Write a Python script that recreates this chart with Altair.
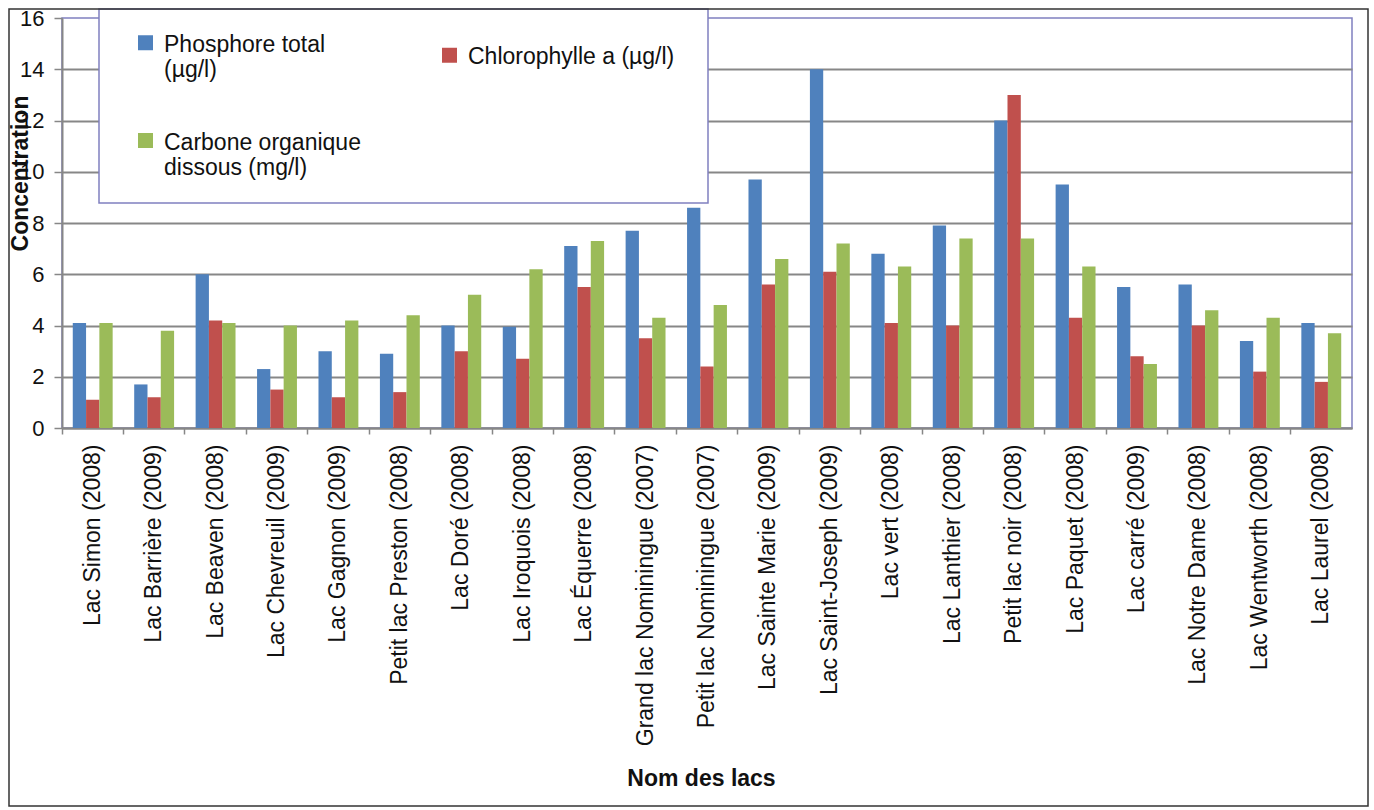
import altair as alt
import pandas as pd

# Lakes, in display order
lacs = [
    "Lac Simon (2008)", "Lac Barrière (2009)", "Lac Beaven (2008)",
    "Lac Chevreuil (2009)", "Lac Gagnon (2009)", "Petit lac Preston (2008)",
    "Lac Doré (2008)", "Lac Iroquois (2008)", "Lac Équerre (2008)",
    "Grand lac Nominingue (2007)", "Petit lac Nominingue (2007)",
    "Lac Sainte Marie (2009)", "Lac Saint-Joseph (2009)", "Lac vert (2008)",
    "Lac Lanthier (2008)", "Petit lac noir (2008)", "Lac Paquet (2008)",
    "Lac carré (2009)", "Lac Notre Dame (2008)", "Lac Wentworth (2008)",
    "Lac Laurel (2008)",
]

# Measured concentrations per lake
phosphore = [4.1, 1.7, 6.0, 2.3, 3.0, 2.9, 4.0, 3.95, 7.1, 7.7, 8.6,
             9.7, 14.0, 6.8, 7.9, 12.0, 9.5, 5.5, 5.6, 3.4, 4.1]
chlorophylle = [1.1, 1.2, 4.2, 1.5, 1.2, 1.4, 3.0, 2.7, 5.5, 3.5, 2.4,
                5.6, 6.1, 4.1, 4.0, 13.0, 4.3, 2.8, 4.0, 2.2, 1.8]
carbone = [4.1, 3.8, 4.1, 4.0, 4.2, 4.4, 5.2, 6.2, 7.3, 4.3, 4.8,
           6.6, 7.2, 6.3, 7.4, 7.4, 6.3, 2.5, 4.6, 4.3, 3.7]

series = ["Phosphore total (µg/l)", "Chlorophylle a (µg/l)",
          "Carbone organique dissous (mg/l)"]
colors = ["#4F81BD", "#C0504D", "#9BBB59"]
y_ticks = list(range(0, 17, 2))

rows = []
for serie, vals in zip(series, [phosphore, chlorophylle, carbone]):
    for lac, v in zip(lacs, vals):
        rows.append({"lac": lac, "serie": serie, "valeur": v})
df = pd.DataFrame(rows)

FONT = "Liberation Sans"
GRID = "#878787"
BORDER = "#8080C0"

# Legend labels wrapped on two lines where the series name is long
label_expr = (
    "datum.label == 'Phosphore total (µg/l)' ? ['Phosphore total', '(µg/l)'] : "
    "datum.label == 'Carbone organique dissous (mg/l)' ? "
    "['Carbone organique', 'dissous (mg/l)'] : datum.label"
)

bars = alt.Chart(df).mark_bar().encode(
    x=alt.X(
        "lac:N",
        sort=lacs,
        scale=alt.Scale(paddingInner=0, paddingOuter=0),
        axis=alt.Axis(
            title="Nom des lacs",
            labelAngle=270,
            labelAlign="right",
            labelBaseline="middle",
            labelFont=FONT,
            labelFontSize=23,
            labelColor="#111111",
            labelPadding=10,
            labelLimit=400,
            bandPosition=0,
            tickSize=6,
            tickColor=GRID,
            tickWidth=1.5,
            domainColor=GRID,
            domainWidth=2,
            titleFont=FONT,
            titleFontSize=23,
            titleFontWeight="bold",
            titleColor="#111111",
            titleX=639,
            titleY=350,
            titleBaseline="middle",
            titleAlign="center",
        ),
    ),
    xOffset=alt.XOffset(
        "serie:N", sort=series,
        scale=alt.Scale(paddingInner=0, paddingOuter=0.81),
    ),
    y=alt.Y(
        "valeur:Q",
        scale=alt.Scale(domain=[0, 16], nice=False, zero=True),
        axis=alt.Axis(
            title="Concentration",
            values=y_ticks,
            format="d",
            labelFont=FONT,
            labelFontSize=22,
            labelColor="#111111",
            labelPadding=10,
            tickSize=8,
            tickColor=GRID,
            tickWidth=1.5,
            domainColor=GRID,
            domainWidth=2,
            grid=True,
            gridColor=alt.condition(
                alt.datum.value == 16, alt.value("transparent"), alt.value(GRID)
            ),
            gridWidth=1.8,
            titleFont=FONT,
            titleFontSize=23,
            titleFontWeight="bold",
            titleColor="#111111",
            titleAngle=270,
            titleX=-42,
            titleY=155,
            titleAlign="center",
            titleBaseline="middle",
        ),
    ),
    color=alt.Color(
        "serie:N",
        scale=alt.Scale(domain=series, range=colors),
        legend=alt.Legend(
            title=None,
            orient="none",
            direction="horizontal",
            legendX=72,
            legendY=4,
            columns=2,
            columnPadding=77,
            rowPadding=38,
            padding=0,
            symbolType="M-1,0.2H1V2.2H-1Z",
            symbolSize=225,
            symbolStrokeWidth=0,
            labelExpr=label_expr,
            labelFont=FONT,
            labelFontSize=23,
            labelColor="#111111",
            labelBaseline="top",
            labelOffset=7,
            labelLimit=400,
        ),
    ),
)

# White panel with a thin border behind the legend entries
legend_box = alt.Chart(pd.DataFrame({"k": [0]})).mark_rect(
    fill="white", stroke=BORDER, strokeWidth=1.5
).encode(
    x=alt.value(37), x2=alt.value(646), y=alt.value(-9), y2=alt.value(185)
)

# Outer frame around the whole figure
frame = alt.Chart(pd.DataFrame({"k": [0]})).mark_rect(
    fillOpacity=0, stroke="#333333", strokeWidth=1.5
).encode(
    x=alt.value(-53), x2=alt.value(1306), y=alt.value(-9), y2=alt.value(788)
)

chart = alt.layer(bars, legend_box, frame).properties(
    width=1290,
    height=410,
    padding={"left": 62, "top": 18, "right": 22, "bottom": 382},
    autosize=alt.AutoSizeParams(type="none"),
    background="white",
).configure_view(
    stroke=BORDER, strokeWidth=1.5
)

chart.save("out.html", embed_options={"renderer": "svg", "actions": False})
